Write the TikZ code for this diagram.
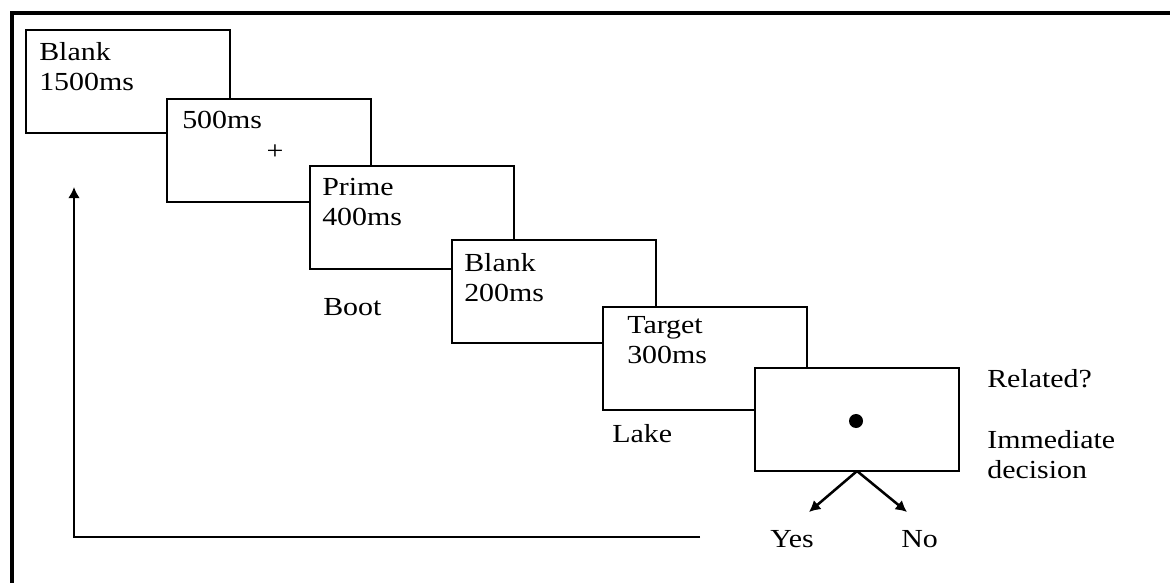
\documentclass[tikz,border=0pt]{standalone}
\usepackage{fontspec}
\setmainfont{Liberation Serif}[FakeStretch=1.15]
\usetikzlibrary{arrows.meta,positioning}

\begin{document}
\begin{tikzpicture}[x=0.025cm,y=-0.025cm,every node/.style={font=\fontsize{18.5}{21.3}\selectfont},screen/.style={rectangle,draw=black,fill=white,line width=1.6pt,minimum width=5.1cm,minimum height=2.575cm,anchor=north west,inner sep=0pt,outer sep=0pt},txt/.style={inner sep=0pt,align=left},arr/.style={-{Latex[length=8pt,width=8.5pt]},line width=1.8pt}]
\useasboundingbox (0,0) rectangle (1170,583);
% outer frame, top and left side only
\coordinate (fbl) at (12,583);
\coordinate (ftl) at (12,13);
\coordinate (ftr) at (1170,13);
\draw[line width=2.8pt] (fbl) -- (ftl) -- (ftr);
% screens of one trial
\node[screen] (blankA) at (26,30) {};
\node[txt,anchor=north west] (blankAtxt) at (39,42) {Blank\\1500ms};
\node[screen] (fix) at (167,99) {};
\node[txt,anchor=north west] (fixtxt) at (182,111) {500ms};
\node[txt] (cross) at (275,152) {+};
\node[screen] (prime) at (310,166) {};
\node[txt,anchor=north west] (primetxt) at (322,178) {Prime\\400ms};
\node[screen] (blankB) at (452,240) {};
\node[txt,anchor=north west] (blankBtxt) at (464,253) {Blank\\200ms};
\node[screen] (target) at (603,307) {};
\node[txt,anchor=north west] (targettxt) at (627,316) {Target\\300ms};
\node[screen] (probe) at (755,368) {};
\node[circle,fill=black,inner sep=0pt,minimum size=0.35cm] (dot) at (856,421) {};
% words under the screens
\node[txt,anchor=base west] (boot) at (323,315) {Boot};
\node[txt,anchor=base west] (lake) at (612,442) {Lake};
\node[txt,anchor=base west] (related) at (987,387) {Related?};
\node[txt,anchor=north west] (decision) at (987,430) {Immediate\\decision};
\node[txt,anchor=base west] (yes) at (770,547) {Yes};
\node[txt,anchor=base west] (no) at (901,547) {No};
% response arrows
\coordinate (yesend) at (809,512);
\coordinate (noend) at (907,512);
\draw[arr] (probe.south) -- (yesend);
\draw[arr] (probe.south) -- (noend);
% time axis
\coordinate (axend) at (700,537);
\coordinate (axcorner) at (74,537);
\coordinate (axtop) at (74,187);
\draw[arr] (axend) -- (axcorner) -- (axtop);
\end{tikzpicture}
\end{document}
